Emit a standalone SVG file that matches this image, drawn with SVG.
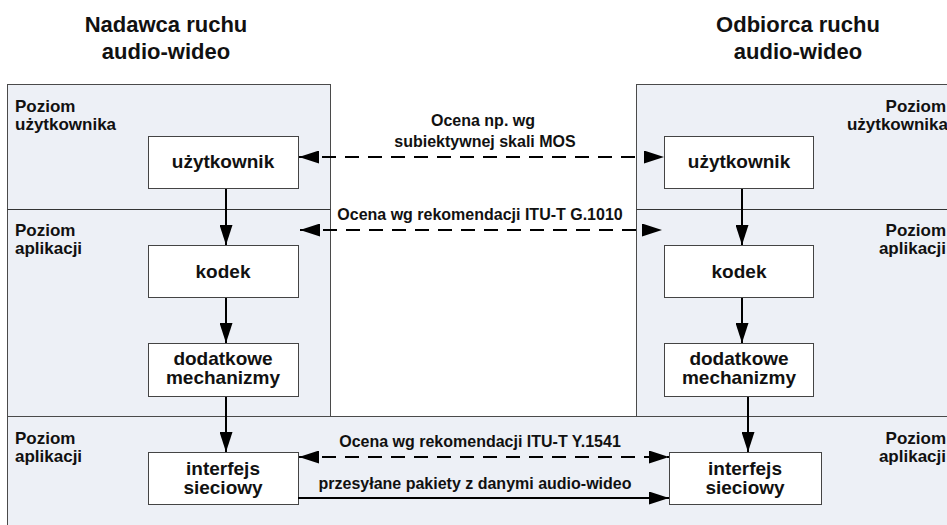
<svg xmlns="http://www.w3.org/2000/svg" width="947" height="525" viewBox="0 0 947 525">
<style>
.panel{fill:#EDF0F6;stroke:#4a4a4a;stroke-width:1}
.div{stroke:#333;stroke-width:1.2;fill:none}
.box{fill:#fff;stroke:#444;stroke-width:1}
text{font-family:"Liberation Sans",Arial,sans-serif;font-weight:bold;fill:#111}
.title{font-size:22px;text-anchor:middle}
.lvl{font-size:17px}
.lvlr{font-size:17px;text-anchor:end}
.bl{font-size:19px;text-anchor:middle}
.cl{font-size:16px;text-anchor:middle}
.line{stroke:#000;stroke-width:2;fill:none}
.dash{stroke:#000;stroke-width:2;fill:none;stroke-dasharray:14 9}
</style>
<defs>
<marker id="ah" markerUnits="userSpaceOnUse" markerWidth="20" markerHeight="13" refX="20" refY="6.5" orient="auto-start-reverse">
<path d="M0,0 L20,6.5 L0,13 z" fill="#000"/>
</marker>
</defs>
<g id="titles">
<text class="title" x="166" y="32">Nadawca ruchu</text>
<text class="title" x="166" y="59">audio-wideo</text>
<text class="title" x="798" y="32">Odbiorca ruchu</text>
<text class="title" x="798" y="59">audio-wideo</text>
</g>
<g id="panels">
<rect class="panel" x="7.5" y="84.5" width="323" height="332"/>
<rect class="panel" x="636.5" y="84.5" width="320" height="332"/>
<rect class="panel" x="7.5" y="416.5" width="950" height="120"/>
<line class="div" x1="7.5" y1="209.5" x2="330.5" y2="209.5"/>
<line class="div" x1="636.5" y1="209.5" x2="947" y2="209.5"/>
<text class="lvl" x="15" y="112">Poziom</text>
<text class="lvl" x="15" y="130">użytkownika</text>
<text class="lvl" x="15" y="236">Poziom</text>
<text class="lvl" x="15" y="254">aplikacji</text>
<text class="lvl" x="15" y="444">Poziom</text>
<text class="lvl" x="15" y="462">aplikacji</text>
<text class="lvlr" x="946" y="112">Poziom</text>
<text class="lvlr" x="948" y="130">użytkownika</text>
<text class="lvlr" x="946" y="236">Poziom</text>
<text class="lvlr" x="946" y="254">aplikacji</text>
<text class="lvlr" x="946" y="444">Poziom</text>
<text class="lvlr" x="946" y="462">aplikacji</text>
</g>
<g id="n-user-l"><rect class="box" x="148.5" y="136.5" width="150" height="52"/><text class="bl" x="223" y="168">użytkownik</text></g>
<g id="n-codec-l"><rect class="box" x="148.5" y="245.5" width="150" height="52"/><text class="bl" x="223" y="278">kodek</text></g>
<g id="n-mech-l"><rect class="box" x="148.5" y="343.5" width="150" height="53"/><text class="bl" x="223" y="365">dodatkowe</text><text class="bl" x="223" y="384">mechanizmy</text></g>
<g id="n-net-l"><rect class="box" x="148.5" y="452.5" width="150" height="52"/><text class="bl" x="223" y="475">interfejs</text><text class="bl" x="223" y="494">sieciowy</text></g>
<g id="n-user-r"><rect class="box" x="664.5" y="136.5" width="149" height="52"/><text class="bl" x="739" y="168">użytkownik</text></g>
<g id="n-codec-r"><rect class="box" x="664.5" y="245.5" width="149" height="52"/><text class="bl" x="739" y="278">kodek</text></g>
<g id="n-mech-r"><rect class="box" x="664.5" y="343.5" width="149" height="53"/><text class="bl" x="739" y="365">dodatkowe</text><text class="bl" x="739" y="384">mechanizmy</text></g>
<g id="n-net-r"><rect class="box" x="669.5" y="452.5" width="152" height="52"/><text class="bl" x="745" y="475">interfejs</text><text class="bl" x="745" y="494">sieciowy</text></g>
<g id="connectors">
<line class="line" x1="226" y1="189" x2="226" y2="245" marker-end="url(#ah)"/>
<line class="line" x1="226" y1="298" x2="226" y2="343" marker-end="url(#ah)"/>
<line class="line" x1="226" y1="397" x2="226" y2="452" marker-end="url(#ah)"/>
<line class="line" x1="742" y1="189" x2="742" y2="245" marker-end="url(#ah)"/>
<line class="line" x1="742" y1="298" x2="742" y2="343" marker-end="url(#ah)"/>
<line class="line" x1="748" y1="397" x2="748" y2="452" marker-end="url(#ah)"/>
<line class="dash" x1="299" y1="157" x2="664" y2="157" marker-start="url(#ah)" marker-end="url(#ah)"/>
<line class="dash" x1="300" y1="230" x2="662" y2="230" marker-start="url(#ah)" marker-end="url(#ah)"/>
<line class="dash" x1="299" y1="457" x2="669" y2="457" marker-start="url(#ah)" marker-end="url(#ah)"/>
<line class="line" x1="298" y1="498" x2="669" y2="498" marker-end="url(#ah)"/>
<text class="cl" x="483" y="126">Ocena np. wg</text>
<text class="cl" x="485" y="147">subiektywnej skali MOS</text>
<text class="cl" x="480" y="220">Ocena wg rekomendacji ITU-T G.1010</text>
<text class="cl" x="480" y="447">Ocena wg rekomendacji ITU-T Y.1541</text>
<text class="cl" x="475" y="489">przesyłane pakiety z danymi audio-wideo</text>
</g>
</svg>
